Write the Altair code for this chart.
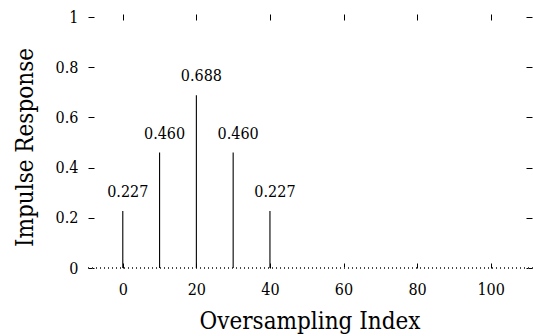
import altair as alt
import pandas as pd

# Oversampled filter taps and their printed values
sample_index = [0, 10, 20, 30, 40]
response = [0.227, 0.460, 0.688, 0.460, 0.227]
value_text = ["0.227", "0.460", "0.688", "0.460", "0.227"]

x_ticks = [0, 20, 40, 60, 80, 100]
y_ticks = [0, 0.2, 0.4, 0.6, 0.8, 1]

X_DOMAIN = [-10, 111.5]
Y_DOMAIN = [0, 1]
FONT = "'DejaVu Serif Condensed', 'DejaVu Serif', serif"
LABEL_SIZE = 16
TITLE_SIZE = 24

taps = pd.DataFrame({"idx": sample_index, "h": response, "txt": value_text})
xt = pd.DataFrame({"t": x_ticks})
yt = pd.DataFrame({"v": y_ticks})

xs = alt.Scale(domain=X_DOMAIN, nice=False, zero=False)
ys = alt.Scale(domain=Y_DOMAIN, nice=False)

# vertical stems, carrying the bottom and left axes
stems = alt.Chart(taps).mark_rule(color="black", strokeWidth=1.1).encode(
    x=alt.X("idx:Q", scale=xs, title="Oversampling Index",
            axis=alt.Axis(values=x_ticks, orient="bottom", domain=False, grid=False,
                          offset=-5, tickSize=5, tickColor="black", tickWidth=1,
                          labelFont=FONT, labelFontSize=LABEL_SIZE, labelColor="black",
                          labelPadding=13, labelFlush=False,
                          titleFont=FONT, titleFontSize=TITLE_SIZE, titleFontWeight="normal",
                          titleColor="black", titleX=223.5, titleY=65,
                          titleBaseline="alphabetic", titleAlign="center")),
    y=alt.Y("h:Q", scale=ys, title="Impulse Response",
            axis=alt.Axis(values=y_ticks, orient="left", domain=False, grid=False,
                          format="~g", offset=-8, tickSize=6, tickColor="black",
                          tickWidth=1, labelFont=FONT, labelFontSize=LABEL_SIZE,
                          labelColor="black", labelPadding=10, labelFlush=False,
                          titleFont=FONT, titleFontSize=TITLE_SIZE, titleFontWeight="normal",
                          titleColor="black", titleAngle=-90, titleX=-62, titleY=130,
                          titleBaseline="alphabetic", titleAlign="center")),
    y2=alt.datum(0),
)

# dotted zero line across the whole plot
baseline = alt.Chart(taps).mark_rule(color="#444", strokeWidth=1, strokeDash=[1, 3]).encode(
    y=alt.datum(0, scale=ys, axis=None)
)

# printed tap values above the stems
values = alt.Chart(taps).mark_text(
    font=FONT, fontSize=LABEL_SIZE, color="black", baseline="alphabetic", dy=-14, dx=5
).encode(
    x=alt.X("idx:Q", scale=xs, axis=None),
    y=alt.Y("h:Q", scale=ys, axis=None),
    text="txt:N",
)

# top tick marks (no labels)
top_ticks = alt.Chart(xt).mark_point(opacity=0).encode(
    x=alt.X("t:Q", scale=xs, title=None,
            axis=alt.Axis(values=x_ticks, orient="top", domain=False, grid=False,
                          labels=False, offset=-3, tickSize=6, tickColor="black",
                          tickWidth=1)),
)

# right tick marks (no labels)
right_ticks = alt.Chart(yt).mark_point(opacity=0).encode(
    y=alt.Y("v:Q", scale=ys, title=None,
            axis=alt.Axis(values=y_ticks, orient="right", domain=False, grid=False,
                          labels=False, offset=-7, tickSize=6, tickColor="black",
                          tickWidth=1)),
)

chart = alt.layer(baseline, stems, values, top_ticks, right_ticks).resolve_axis(
    x="independent", y="independent"
).properties(
    width=447, height=251,
    autosize=alt.AutoSizeParams(type="none"),
    padding={"left": 86, "top": 17, "right": 0, "bottom": 68},
    background="white",
).configure_view(stroke=None)

chart.save("out.html", embed_options={"renderer": "svg", "actions": False})
